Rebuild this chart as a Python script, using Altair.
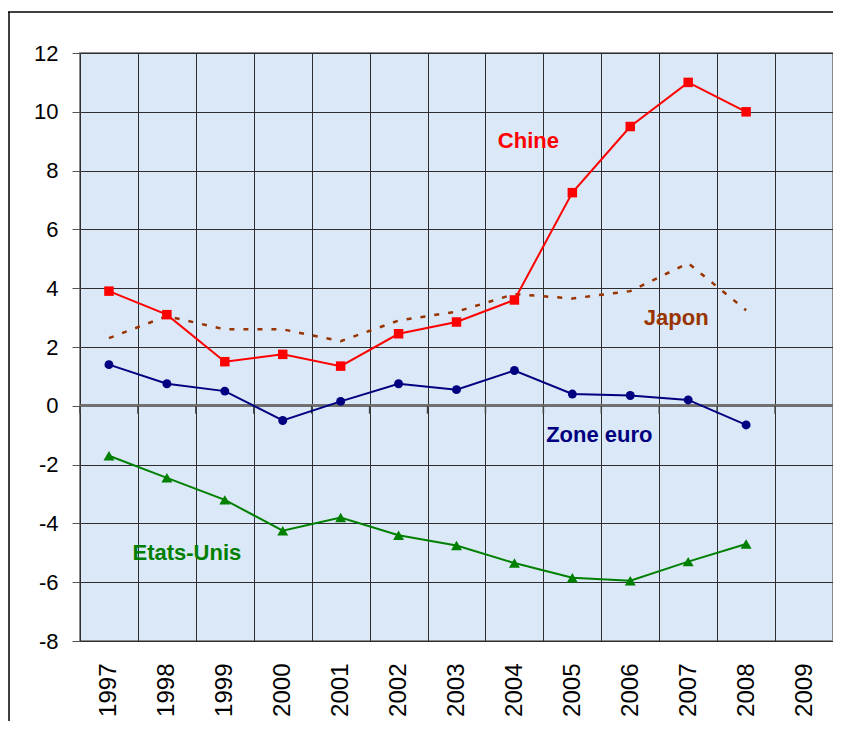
import altair as alt
import pandas as pd

years = [1997, 1998, 1999, 2000, 2001, 2002, 2003, 2004, 2005, 2006, 2007, 2008]
x_labels = ["1997", "1998", "1999", "2000", "2001", "2002", "2003",
            "2004", "2005", "2006", "2007", "2008", "2009"]
y_ticks = [-8, -6, -4, -2, 0, 2, 4, 6, 8, 10, 12]

chine = [3.9, 3.1, 1.5, 1.75, 1.35, 2.45, 2.85, 3.6, 7.25, 9.5, 11.0, 10.0]
japon = [2.3, 3.05, 2.6, 2.6, 2.2, 2.9, 3.2, 3.8, 3.65, 3.9, 4.85, 3.25]
zone_euro = [1.4, 0.75, 0.5, -0.5, 0.15, 0.75, 0.55, 1.2, 0.4, 0.35, 0.2, -0.65]
etats_unis = [-1.7, -2.45, -3.2, -4.25, -3.8, -4.4, -4.75, -5.35, -5.85, -5.95, -5.3, -4.7]

labels = ["Chine", "Japon", "Zone euro", "Etats-Unis"]
label_years = ["2004", "2007", "2005", "1998"]
label_values = [9.0, 3.0, -1.0, -5.0]
label_dx = [14, -12, 27, 20]
colors = ["#ff0000", "#993300", "#000080", "#008000"]

FONT = "Liberation Sans"
W, H = 753, 588

x_scale = alt.Scale(domain=x_labels, type="band", paddingInner=0, paddingOuter=0)
y_scale = alt.Scale(domain=[-8, 12], nice=False, zero=False)

x_axis = alt.Axis(title=None, labelAngle=270, labelFontSize=24, labelFont=FONT,
                  labelColor="black", ticks=False, domain=False, labelPadding=22,
                  grid=True, gridColor="#2e2e2e", gridWidth=1, tickBand="extent")
y_axis = alt.Axis(title=None, values=y_ticks, labelFontSize=22, labelFont=FONT,
                  labelColor="black", tickSize=8, tickColor="#555555", domain=False,
                  labelPadding=14, grid=True, gridColor="#2e2e2e", gridWidth=1,
                  labelExpr="datum.value < 0 ? '-' + abs(datum.value) : '' + datum.value")

x_enc = alt.X("year:O", scale=x_scale, axis=x_axis)
y_enc = alt.Y("value:Q", scale=y_scale, axis=y_axis)


def frame(values):
    return pd.DataFrame({"year": [str(y) for y in years], "value": values})


layers = []

# zero line and small ticks at category boundaries
zero_df = pd.DataFrame({"year": x_labels, "value": [0] * len(x_labels)})
layers.append(
    alt.Chart(zero_df).mark_rule(color="#707070", strokeWidth=2).encode(
        y=y_enc, x=alt.value(0), x2=alt.value(W))
)
layers.append(
    alt.Chart(zero_df).mark_rule(color="#444444", strokeWidth=1.5).encode(
        x=alt.X("year:O", scale=x_scale, axis=x_axis, bandPosition=0),
        y=y_enc, y2=alt.datum(-0.27))
)

# Japon dashed
layers.append(
    alt.Chart(frame(japon)).mark_line(color="#993300", strokeWidth=2.5,
                                      strokeDash=[5, 9]).encode(x=x_enc, y=y_enc)
)

series = [
    (etats_unis, "#008000", "triangle-up", 120),
    (zone_euro, "#000080", "circle", 80),
    (chine, "#ff0000", "square", 90),
]
for vals, col, shape, size in series:
    df = frame(vals)
    layers.append(alt.Chart(df).mark_line(color=col, strokeWidth=2).encode(x=x_enc, y=y_enc))
    layers.append(alt.Chart(df).mark_point(color=col, shape=shape, size=size, filled=True,
                                           opacity=1).encode(x=x_enc, y=y_enc))

for lab, yr, val, dx, col in zip(labels, label_years, label_values, label_dx, colors):
    ldf = pd.DataFrame({"year": [yr], "value": [val], "label": [lab]})
    layers.append(
        alt.Chart(ldf).mark_text(color=col, fontSize=22, fontWeight="bold", font=FONT,
                                 dx=dx, align="center", baseline="middle").encode(
            x=x_enc, y=y_enc, text="label:N")
    )

# outer frame of the figure
frame_df = pd.DataFrame({"year": ["1997"], "value": [0]})
layers.append(
    alt.Chart(frame_df).mark_rule(color="black", strokeWidth=1.5).encode(
        x=alt.value(-71), y=alt.value(-41), y2=alt.value(700))
)
layers.append(
    alt.Chart(frame_df).mark_rule(color="black", strokeWidth=1.5).encode(
        x=alt.value(-72), x2=alt.value(780), y=alt.value(-41))
)

chart = alt.layer(*layers).properties(
    width=W, height=H,
    autosize=alt.AutoSizeParams(type="none"),
    padding={"left": 72, "top": 45, "right": 0, "bottom": 80},
    background="white",
).configure_view(fill="#dae8f7", stroke="#8a8a8a", strokeWidth=2)

chart.save("out.html", embed_options={"renderer": "svg", "actions": False})
